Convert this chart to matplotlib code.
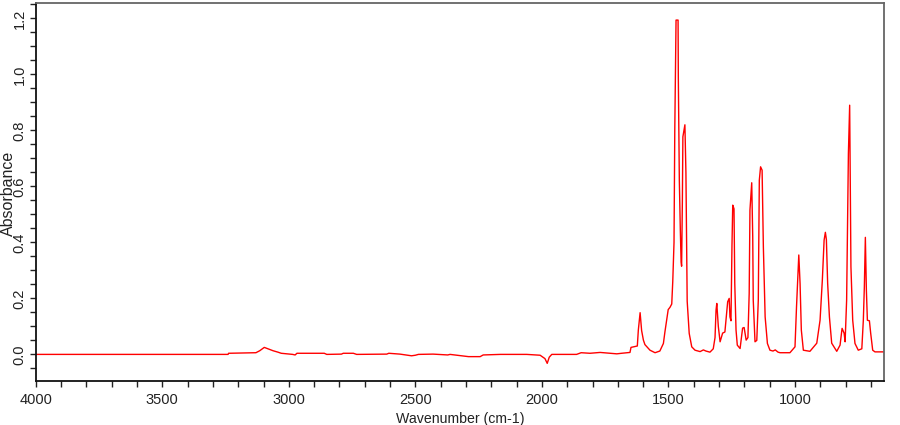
import matplotlib
matplotlib.use("Agg")
import matplotlib.pyplot as plt
from matplotlib.ticker import MultipleLocator

#======================================================================#
# IR absorbance spectrum.
#======================================================================#

plt.rcParams['font.family'] = ['Liberation Sans', 'DejaVu Sans']

#Wavenumber (cm-1) and absorbance pairs.
wavenumber = [
    4000, 3240, 3238, 3130, 3115, 3097, 3082, 3062, 3043, 3030,
    2985, 2975, 2968, 2860, 2850, 2792, 2785, 2745, 2732, 2613,
    2605, 2561, 2515, 2500, 2488, 2430, 2372, 2363, 2290, 2244,
    2232, 2164, 2060, 2007, 1988, 1979, 1971, 1961, 1863, 1845,
    1810, 1770, 1704, 1685, 1652, 1648, 1623, 1619, 1612, 1606,
    1599, 1593, 1573, 1553, 1534, 1520, 1514, 1507, 1501, 1494,
    1487, 1483, 1478, 1475, 1470, 1462, 1461, 1457, 1453, 1450,
    1448, 1445, 1443, 1435, 1431, 1426, 1418, 1408, 1395, 1375,
    1362, 1352, 1336, 1323, 1316, 1312, 1309, 1303, 1296, 1286,
    1277, 1266, 1260, 1257, 1253, 1249, 1246, 1241, 1238, 1233,
    1228, 1217, 1207, 1201, 1193, 1186, 1181, 1178, 1171, 1167,
    1165, 1158, 1151, 1145, 1141, 1136, 1130, 1125, 1118, 1109,
    1099, 1087, 1078, 1067, 1059, 1020, 1000, 994, 985, 980,
    975, 967, 941, 914, 901, 892, 885, 880, 876, 871,
    864, 855, 835, 822, 814, 806, 802, 796, 789, 784,
    779, 772, 763, 750, 736, 730, 726, 722, 718, 714,
    706, 701, 693, 684, 650,
]
absorbance = [
    0.000, 0.000, 0.004, 0.006, 0.013, 0.025, 0.020, 0.013, 0.008, 0.004,
    0.000, -0.002, 0.004, 0.004, 0.000, 0.001, 0.004, 0.004, 0.000, 0.001,
    0.004, 0.001, -0.005, -0.003, 0.000, 0.001, -0.002, 0.000, -0.008, -0.008,
    -0.002, 0.000, 0.000, -0.003, -0.015, -0.032, -0.010, 0.000, 0.000, 0.006,
    0.004, 0.007, 0.002, 0.004, 0.007, 0.025, 0.030, 0.087, 0.149, 0.085,
    0.051, 0.035, 0.015, 0.006, 0.012, 0.039, 0.080, 0.122, 0.160, 0.168,
    0.180, 0.260, 0.400, 0.800, 1.194, 1.194, 0.990, 0.620, 0.440, 0.330,
    0.315, 0.550, 0.777, 0.820, 0.650, 0.190, 0.075, 0.027, 0.015, 0.010,
    0.016, 0.012, 0.008, 0.020, 0.060, 0.158, 0.182, 0.100, 0.045, 0.076,
    0.080, 0.188, 0.200, 0.134, 0.120, 0.390, 0.533, 0.520, 0.254, 0.087,
    0.033, 0.021, 0.094, 0.096, 0.051, 0.060, 0.218, 0.515, 0.613, 0.420,
    0.194, 0.045, 0.050, 0.194, 0.622, 0.670, 0.658, 0.384, 0.134, 0.039,
    0.015, 0.012, 0.016, 0.008, 0.006, 0.006, 0.027, 0.170, 0.355, 0.254,
    0.087, 0.015, 0.011, 0.040, 0.122, 0.265, 0.408, 0.436, 0.410, 0.254,
    0.134, 0.040, 0.011, 0.033, 0.093, 0.076, 0.045, 0.194, 0.718, 0.890,
    0.313, 0.122, 0.039, 0.015, 0.020, 0.122, 0.241, 0.418, 0.230, 0.122,
    0.120, 0.076, 0.015, 0.009, 0.009,
]

fig = plt.figure(figsize=(9, 4.25), dpi=100)
ax = fig.add_axes([0.0397, 0.1042, 0.9429, 0.8894])

ax.plot(wavenumber, absorbance, color='#ff0000', lw=1.0)

ax.set_xlim(4000, 647)
ax.set_ylim(-0.094, 1.256)

ax.xaxis.set_major_locator(MultipleLocator(500))
ax.xaxis.set_minor_locator(MultipleLocator(100))
ax.yaxis.set_major_locator(MultipleLocator(0.2))
ax.yaxis.set_minor_locator(MultipleLocator(0.05))
ax.yaxis.set_major_formatter(lambda v, p: '%.1f' % v)

ax.tick_params(which='both', direction='out', length=4.5, width=1.0,
               color='#222222', labelsize=10.5, labelcolor='#222222')
ax.tick_params(axis='x', which='both', pad=4)
ax.tick_params(axis='y', which='both', pad=2, labelrotation=90)
for lab in ax.get_yticklabels():
    lab.set_va('center')

for side in ['left', 'bottom']:
    ax.spines[side].set_color('#111111')
    ax.spines[side].set_linewidth(1.3)
for side in ['top', 'right']:
    ax.spines[side].set_color('#666666')
    ax.spines[side].set_linewidth(1.3)

ax.set_xlabel('Wavenumber (cm-1)', fontsize=10.2, color='#222222', labelpad=4)
fig.text(8.5 / 900, 1 - 193 / 425, 'Absorbance', rotation=90, ha='center',
         va='center', fontsize=11.5, color='#222222')

fig.savefig('out.png', dpi=100)
